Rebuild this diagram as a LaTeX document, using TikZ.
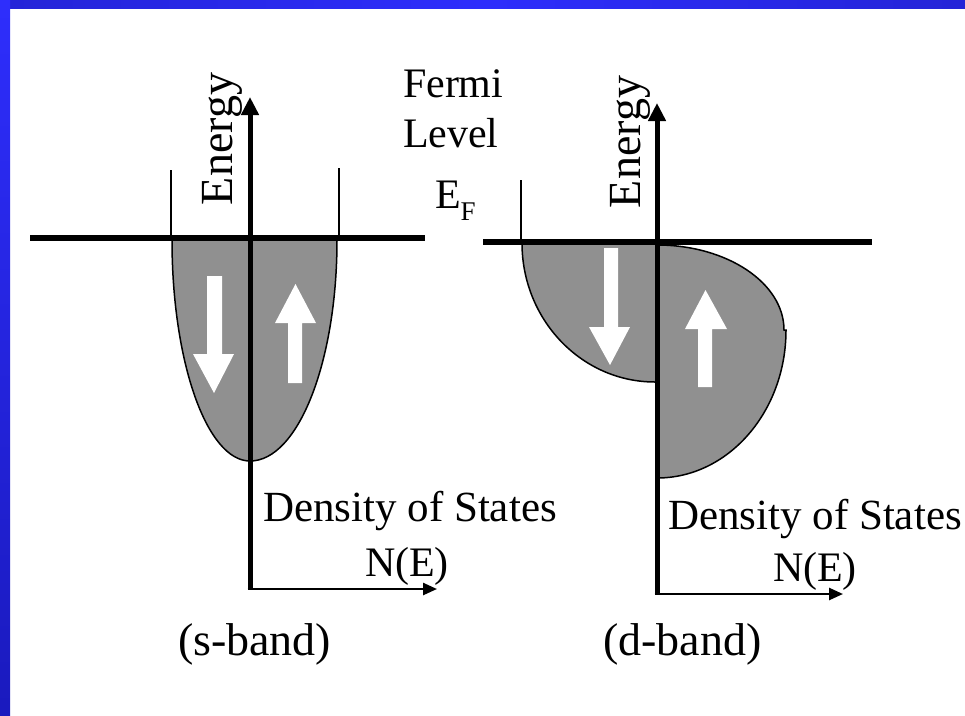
\documentclass[tikz,border=0pt]{standalone}
\usepackage{fontspec}
\setmainfont{Liberation Serif}
\usetikzlibrary{arrows.meta}
\definecolor{bandgray}{RGB}{144,144,144}
\definecolor{frameA}{RGB}{36,36,215}
\definecolor{frameB}{RGB}{46,46,252}
\definecolor{frameC}{RGB}{26,26,190}
\begin{document}
\begin{tikzpicture}[x=1pt,y=-1pt,
  txt/.style={inner sep=0pt, outer sep=0pt, anchor=base west, font=\fontsize{42}{48}\selectfont},
  dtxt/.style={txt, font=\fontsize{43}{48}\selectfont},
  etxt/.style={txt, rotate=90, font=\fontsize{46}{52}\selectfont},
  btxt/.style={txt, font=\fontsize{46}{52}\selectfont},
  fermiline/.style={line width=5.5pt},
  vaxis/.style={line width=5pt, -{Triangle[length=18pt,width=17pt]}},
  haxis/.style={line width=2.5pt, -{Triangle[length=14pt,width=12pt]}},
  tickline/.style={line width=1.3pt},
  outline/.style={line width=1.5pt},
  spin/.style={fill=white}]
\useasboundingbox (0,0) rectangle (965,715);
\fill[white] (0,0) rectangle (965,715);
\shade[left color=frameA, right color=frameA, middle color=frameB] (0,0) rectangle (965,8);
\shade[top color=frameB, bottom color=frameC] (0,0) rectangle (10,715);

% ---------- s-band ----------
\filldraw[fill=bandgray, draw=black, outline] (172,240)
  arc[start angle=180, end angle=90, x radius=78, y radius=221]
  arc[start angle=90, end angle=0, x radius=87, y radius=221];
\fill[spin] (207,276) -- (222,276) -- (222,354) -- (234,354) -- (214,393) -- (193,354) -- (207,354) -- cycle;
\fill[spin] (288,383) -- (302,383) -- (302,323) -- (316,323) -- (295.5,284) -- (275,323) -- (288,323) -- cycle;

\coordinate (LB) at (250,589);
\coordinate (LT) at (250,97);
\coordinate (LH0) at (247.5,589);
\coordinate (LH1) at (437,589);
\draw[vaxis] (LB) -- (LT);
\draw[haxis] (LH0) -- (LH1);
\coordinate (LF0) at (30,238);
\coordinate (LF1) at (425,238);
\draw[fermiline] (LF0) -- (LF1);
\draw[tickline] (171,170) -- (171,238);
\draw[tickline] (339,168) -- (339,238);

% ---------- d-band ----------
\fill[bandgray] (522,243)
  arc[start angle=180, end angle=90, x radius=133, y radius=139] -- (657,382) -- (657,243) -- cycle;
\draw[outline] (522,243)
  arc[start angle=180, end angle=90, x radius=133, y radius=139] -- (657,382);
\fill[bandgray] (657,245)
  arc[start angle=270, end angle=360, x radius=127, y radius=85] -- (786,330)
  arc[start angle=0, end angle=90, x radius=129, y radius=148] -- cycle;
\draw[outline] (657,245)
  arc[start angle=270, end angle=360, x radius=127, y radius=85] -- (786,330)
  arc[start angle=0, end angle=90, x radius=129, y radius=148];
\fill[spin] (604,248) -- (618,248) -- (618,327) -- (630,327) -- (610,365) -- (589,327) -- (604,327) -- cycle;
\fill[spin] (698,387) -- (712,387) -- (712,329) -- (727,329) -- (705.5,290) -- (685,329) -- (698,329) -- cycle;

\coordinate (RB) at (657,594);
\coordinate (RT) at (657,103);
\coordinate (RH0) at (654.5,594);
\coordinate (RH1) at (843,594);
\draw[vaxis] (RB) -- (RT);
\draw[haxis] (RH0) -- (RH1);
\coordinate (RF0) at (483,242);
\coordinate (RF1) at (872,242);
\draw[fermiline] (RF0) -- (RF1);
\draw[tickline] (521,180) -- (521,242);

% ---------- texts ----------
\node[etxt] (enL) at (232,205) {Energy};
\node[etxt] (enR) at (640,208) {Energy};
\node[txt] (fermi) at (403,97) {Fermi};
\node[txt] (level) at (403,147) {Level};
\node[txt] (ef) at (435,208) {E\raisebox{-12pt}{\fontsize{27}{30}\selectfont F}};
\node[dtxt] (dosL) at (263,521) {Density of States};
\node[txt] (neL) at (365,576) {N(E)};
\node[dtxt] (dosR) at (668,529) {Density of States};
\node[txt] (neR) at (773,581) {N(E)};
\node[btxt] (sband) at (178,655) {(s-band)};
\node[btxt] (dband) at (603,655) {(d-band)};
\end{tikzpicture}
\end{document}
